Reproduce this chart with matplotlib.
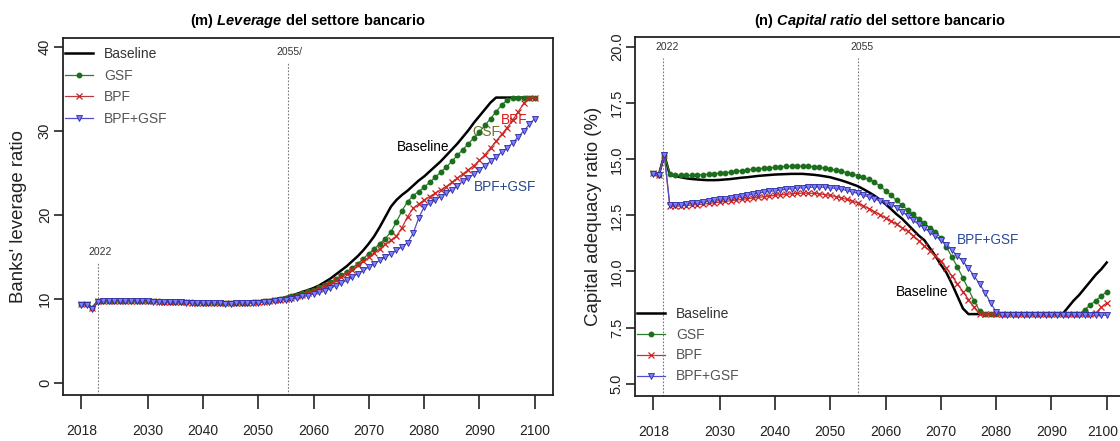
import matplotlib
matplotlib.use('Agg')
import matplotlib.pyplot as plt
import matplotlib.transforms as mtransforms

plt.rcParams['font.family'] = ['Liberation Sans', 'DejaVu Sans']
plt.rcParams['mathtext.fontset'] = 'custom'
plt.rcParams['mathtext.bfit'] = 'Liberation Sans:italic:bold'
plt.rcParams['mathtext.it'] = 'Liberation Sans:italic'

NARROW = ['Liberation Sans Narrow', 'Liberation Sans', 'DejaVu Sans']

# years 2018..2100
years = list(range(2018, 2101))
xticks = [2018, 2030, 2040, 2050, 2060, 2070, 2080, 2090, 2100]

# (m) leverage ratio
lev_base = [9.4, 9.35, 8.9, 9.7, 9.75, 9.75, 9.76, 9.76, 9.76, 9.75,
            9.75, 9.74, 9.73, 9.72, 9.7, 9.68, 9.66, 9.64, 9.62, 9.6,
            9.58, 9.56, 9.54, 9.52, 9.5, 9.49, 9.48, 9.48, 9.5, 9.53,
            9.57, 9.62, 9.68, 9.76, 9.85, 9.95, 10.07, 10.2, 10.4, 10.6,
            10.85, 11.05, 11.3, 11.6, 12.0, 12.4, 12.9, 13.4, 13.9, 14.5,
            15.1, 15.8, 16.6, 17.5, 18.6, 19.8, 21.0, 21.8, 22.4, 22.9,
            23.5, 24.1, 24.6, 25.2, 25.8, 26.4, 27.1, 27.8, 28.5, 29.3,
            30.1, 31.0, 31.8, 32.6, 33.4, 34.0, 34.0, 34.0, 34.0, 34.0,
            34.0, 34.0, 34.0]
lev_gsf = [9.4, 9.35, 8.9, 9.7, 9.75, 9.75, 9.76, 9.76, 9.76, 9.75,
           9.75, 9.74, 9.73, 9.72, 9.7, 9.68, 9.66, 9.64, 9.62, 9.6,
           9.58, 9.56, 9.54, 9.52, 9.5, 9.49, 9.48, 9.48, 9.5, 9.52,
           9.56, 9.6, 9.65, 9.72, 9.8, 9.9, 10.0, 10.1, 10.3, 10.5,
           10.7, 10.9, 11.1, 11.4, 11.7, 12.0, 12.4, 12.8, 13.2, 13.7,
           14.2, 14.8, 15.4, 16.0, 16.6, 17.2, 18.0, 19.2, 20.5, 21.6,
           22.3, 22.8, 23.3, 23.9, 24.5, 25.1, 25.7, 26.4, 27.1, 27.8,
           28.5, 29.2, 29.9, 30.7, 31.5, 32.3, 33.1, 33.7, 34.0, 34.0,
           34.0, 34.0, 34.0]
lev_bpf = [9.4, 9.35, 8.9, 9.7, 9.74, 9.74, 9.75, 9.75, 9.75, 9.74,
           9.74, 9.73, 9.72, 9.71, 9.69, 9.67, 9.65, 9.63, 9.61, 9.59,
           9.57, 9.55, 9.53, 9.51, 9.49, 9.48, 9.47, 9.47, 9.48, 9.5,
           9.53, 9.57, 9.62, 9.68, 9.75, 9.83, 9.92, 10.0, 10.1, 10.3,
           10.5, 10.7, 10.9, 11.2, 11.5, 11.8, 12.2, 12.6, 13.0, 13.5,
           14.0, 14.5, 15.0, 15.5, 16.0, 16.5, 17.0, 17.5, 18.5, 19.8,
           20.8, 21.3, 21.8, 22.2, 22.6, 23.0, 23.4, 23.9, 24.4, 24.9,
           25.4, 25.9, 26.5, 27.2, 28.0, 28.8, 29.6, 30.4, 31.3, 32.3,
           33.3, 34.0, 34.0]
lev_both = [9.3, 9.3, 8.85, 9.65, 9.72, 9.72, 9.73, 9.73, 9.73, 9.72,
            9.72, 9.71, 9.7, 9.69, 9.67, 9.65, 9.63, 9.61, 9.59, 9.57,
            9.55, 9.53, 9.51, 9.49, 9.47, 9.46, 9.45, 9.45, 9.46, 9.48,
            9.5, 9.53, 9.57, 9.62, 9.68, 9.75, 9.82, 9.9, 10.0, 10.1,
            10.3, 10.4, 10.6, 10.8, 11.0, 11.3, 11.6, 11.9, 12.2, 12.6,
            13.0, 13.4, 13.8, 14.2, 14.6, 15.0, 15.4, 15.8, 16.2, 16.7,
            17.8, 19.6, 21.0, 21.4, 21.8, 22.2, 22.6, 23.0, 23.5, 24.0,
            24.4, 24.9, 25.4, 25.9, 26.4, 26.9, 27.5, 28.0, 28.6, 29.3,
            30.0, 30.8, 31.5]

# (n) capital adequacy ratio (%)
cap_base = [14.4, 14.3, 15.2, 14.3, 14.25, 14.2, 14.15, 14.12, 14.1, 14.08,
            14.07, 14.07, 14.08, 14.1, 14.12, 14.15, 14.18, 14.2, 14.23, 14.26,
            14.28, 14.3, 14.32, 14.33, 14.34, 14.35, 14.35, 14.35, 14.33, 14.31,
            14.28, 14.24, 14.2, 14.13, 14.06, 13.98, 13.89, 13.8, 13.67, 13.53,
            13.38, 13.2, 13.0, 12.78, 12.55, 12.35, 12.1, 11.85, 11.6, 11.4,
            11.05, 10.7, 10.3, 9.95, 9.45, 8.9, 8.35, 8.1, 8.1, 8.1,
            8.1, 8.1, 8.1, 8.1, 8.1, 8.1, 8.1, 8.1, 8.1, 8.1,
            8.1, 8.1, 8.1, 8.1, 8.1, 8.4, 8.7, 8.95, 9.25, 9.55,
            9.85, 10.1, 10.4]
cap_gsf = [14.4, 14.3, 15.2, 14.35, 14.3, 14.28, 14.28, 14.28, 14.3, 14.32,
           14.34, 14.36, 14.38, 14.4, 14.43, 14.46, 14.49, 14.52, 14.55, 14.58,
           14.6, 14.62, 14.64, 14.66, 14.68, 14.69, 14.7, 14.7, 14.69, 14.67,
           14.64, 14.6, 14.56, 14.51, 14.46, 14.4, 14.34, 14.27, 14.19, 14.1,
           13.99, 13.8, 13.6, 13.4, 13.17, 12.95, 12.75, 12.55, 12.35, 12.15,
           11.95, 11.75, 11.5, 11.1, 10.65, 10.2, 9.7, 9.2, 8.7, 8.25,
           8.1, 8.1, 8.1, 8.1, 8.1, 8.1, 8.1, 8.1, 8.1, 8.1,
           8.1, 8.1, 8.1, 8.1, 8.1, 8.1, 8.1, 8.1, 8.3, 8.5,
           8.7, 8.9, 9.1]
cap_bpf = [14.4, 14.3, 15.2, 12.9, 12.9, 12.92, 12.94, 12.96, 12.98, 13.0,
           13.03, 13.06, 13.09, 13.12, 13.15, 13.18, 13.21, 13.24, 13.27, 13.3,
           13.33, 13.36, 13.39, 13.42, 13.44, 13.46, 13.48, 13.49, 13.49, 13.48,
           13.46, 13.43, 13.39, 13.34, 13.28, 13.21, 13.13, 13.05, 12.93, 12.8,
           12.67, 12.53, 12.39, 12.25, 12.1, 11.95, 11.8, 11.6, 11.38, 11.15,
           10.92, 10.7, 10.48, 10.15, 9.8, 9.45, 9.1, 8.75, 8.4, 8.1,
           8.1, 8.1, 8.1, 8.1, 8.1, 8.1, 8.1, 8.1, 8.1, 8.1,
           8.1, 8.1, 8.1, 8.1, 8.1, 8.1, 8.1, 8.1, 8.1, 8.1,
           8.15, 8.4, 8.6]
cap_both = [14.35, 14.3, 15.2, 12.95, 12.95, 12.98, 13.01, 13.04, 13.07, 13.1,
            13.13, 13.17, 13.21, 13.25, 13.29, 13.33, 13.37, 13.41, 13.45, 13.49,
            13.53, 13.57, 13.6, 13.63, 13.66, 13.69, 13.71, 13.73, 13.75, 13.76,
            13.76, 13.75, 13.73, 13.7, 13.66, 13.61, 13.55, 13.48, 13.4, 13.32,
            13.23, 13.14, 13.06, 12.98, 12.85, 12.67, 12.48, 12.28, 12.1, 11.93,
            11.76, 11.58, 11.4, 11.2, 10.95, 10.7, 10.45, 10.15, 9.8, 9.45,
            9.05, 8.6, 8.2, 8.05, 8.05, 8.05, 8.05, 8.05, 8.05, 8.05,
            8.05, 8.05, 8.05, 8.05, 8.05, 8.05, 8.05, 8.05, 8.05, 8.05,
            8.05, 8.05, 8.05]

labels = ['Baseline', 'GSF', 'BPF', 'BPF+GSF']

fig = plt.figure(figsize=(11.2, 4.41), dpi=100)
W, H = 1120.0, 441.0
ax1 = fig.add_axes([63 / W, 1 - 395 / H, 490 / W, 357 / H])
ax2 = fig.add_axes([635 / W, 1 - 396 / H, 490 / W, 359 / H])


def draw_series(ax, base, gsf, bpf, both):
    h0, = ax.plot(years, base, color='black', lw=1.8, zorder=3)
    h1, = ax.plot(years, gsf, color='#2e7d2e', lw=0.9, marker='o', ms=3.2,
                  mfc='#1b6e1b', mec='#1b6e1b', zorder=4)
    h2, = ax.plot(years, bpf, color='#b83a3a', lw=0.9, marker='x', ms=4,
                  mew=0.9, mec='#d02020', zorder=4)
    h3, = ax.plot(years, both, color='#5050c8', lw=0.9, marker='v', ms=4,
                  mfc='#7d7dff', mec='#2a2aa0', mew=0.6, zorder=5)
    return [h0, h1, h2, h3]


def style_axes(ax, ylim, yticks, ylabels):
    ax.set_xlim(2014.7, 2103.3)
    ax.set_ylim(*ylim)
    ax.set_xticks(xticks)
    ax.set_yticks(yticks)
    ax.set_yticklabels(ylabels)
    for s in ax.spines.values():
        s.set_linewidth(1.3)
        s.set_color('#222222')
    ax.tick_params(axis='x', length=10, width=1.2, pad=11, labelsize=10, colors='#222222')
    ax.tick_params(axis='y', length=6.5, width=1.2, pad=1.5, labelsize=10.5,
                   labelrotation=90, colors='#222222')
    for lbl in ax.get_xticklabels() + ax.get_yticklabels():
        lbl.set_family(NARROW)
        lbl.set_color('#222222')
    for lbl in ax.get_yticklabels():
        lbl.set_va('center')


# ---- left panel
hs = draw_series(ax1, lev_base, lev_gsf, lev_bpf, lev_both)
style_axes(ax1, (-1.45, 41.1), [0, 10, 20, 30, 40], ['0', '10', '20', '30', '40'])
ax1.set_title(r'(m) $\mathbfit{Leverage}$ del settore bancario', fontsize=10.5,
              fontweight='bold', pad=9)
ax1.set_ylabel("Banks' leverage ratio", fontsize=13.4, color='#222222')
ax1.yaxis.set_label_coords(-0.074, 0.5)
ax1.plot([2021.1, 2021.1], [-1.45, 14.4], color='#777777', lw=0.8, ls=(0, (1.5, 1.5)), zorder=1)
ax1.plot([2055.4, 2055.4], [-1.45, 38.2], color='#777777', lw=0.8, ls=(0, (1.5, 1.5)), zorder=1)
ax1.text(2021.4, 15.6, '2022', fontsize=7.5, family=NARROW, ha='center', va='center', color='#333333')
ax1.text(2055.7, 39.4, '2055/', fontsize=7.5, family=NARROW, ha='center', va='center', color='#333333')
ax1.text(2079.8, 28.1, 'Baseline', fontsize=9.8, ha='center', va='center', color='black')
ax1.text(2091.3, 29.9, 'GSF', fontsize=9.8, ha='center', va='center', color='#6e6e2a')
ax1.text(2096.2, 31.3, 'BPF', fontsize=9.8, ha='center', va='center', color='#e01818')
ax1.text(2094.6, 23.3, 'BPF+GSF', fontsize=9.8, ha='center', va='center', color='#2b4a8c')
leg1 = ax1.legend(hs, labels, loc='upper left', bbox_to_anchor=(0.004, 0.975), frameon=False,
                  fontsize=10, handlelength=2.0, handletextpad=0.8, labelspacing=0.55,
                  borderpad=0, borderaxespad=0)
for t in leg1.get_texts():
    t.set_color('#555555')
leg1.get_texts()[0].set_color('#333333')

# ---- right panel
hs2 = draw_series(ax2, cap_base, cap_gsf, cap_bpf, cap_both)
style_axes(ax2, (4.45, 20.45), [5, 7.5, 10, 12.5, 15, 17.5, 20],
           ['5.0', '7.5', '10.0', '12.5', '15.0', '17.5', '20.0'])
last = ax2.get_xticklabels()[-1]
last.set_transform(last.get_transform() + mtransforms.ScaledTranslation(-4 / 100, 0, fig.dpi_scale_trans))
ax2.set_title(r'(n) $\mathbfit{Capital\ ratio}$ del settore bancario', fontsize=10.5,
              fontweight='bold', pad=9)
ax2.set_ylabel('Capital adequacy ratio (%)', fontsize=13.4, color='#222222')
ax2.yaxis.set_label_coords(-0.067, 0.5)
ax2.plot([2019.8, 2019.8], [4.45, 19.5], color='#777777', lw=0.8, ls=(0, (1.5, 1.5)), zorder=1)
ax2.plot([2055.0, 2055.0], [4.45, 19.5], color='#777777', lw=0.8, ls=(0, (1.5, 1.5)), zorder=1)
ax2.text(2020.5, 20.0, '2022', fontsize=7.5, family=NARROW, ha='center', va='center', color='#333333')
ax2.text(2055.7, 20.0, '2055', fontsize=7.5, family=NARROW, ha='center', va='center', color='#333333')
ax2.text(2078.6, 11.4, 'BPF+GSF', fontsize=9.8, ha='center', va='center', color='#2b4a9a')
ax2.text(2066.6, 9.09, 'Baseline', fontsize=9.8, ha='center', va='center', color='black')
leg2 = ax2.legend(hs2, labels, loc='lower left', bbox_to_anchor=(0.004, 0.035), frameon=False,
                  fontsize=10, handlelength=2.0, handletextpad=0.8, labelspacing=0.5,
                  borderpad=0, borderaxespad=0)
for t in leg2.get_texts():
    t.set_color('#555555')
leg2.get_texts()[0].set_color('#333333')

fig.savefig('out.png', dpi=100)
